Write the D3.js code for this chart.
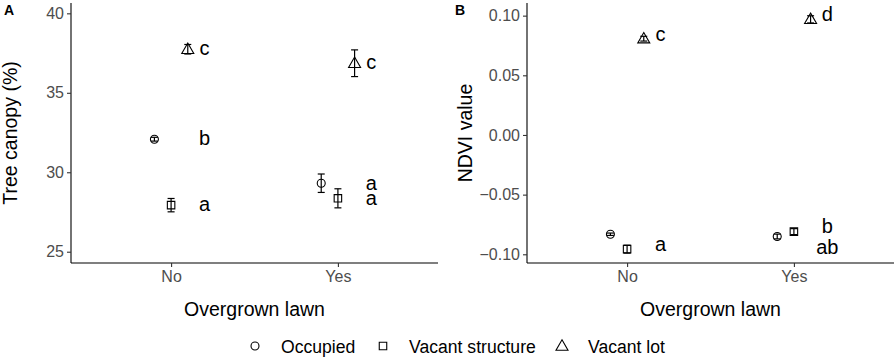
<!DOCTYPE html>
<html>
<head>
<meta charset="utf-8">
<script src="https://cdn.jsdelivr.net/npm/d3@7"></script>
<style>
  html, body { margin: 0; padding: 0; background: #fff; }
  svg { display: block; font-family: "Liberation Sans", Arial, sans-serif; }
</style>
</head>
<body>
<svg id="chart" width="896" height="358"></svg>
<script>
// ---------- data ----------
const categories = ["No", "Yes"];
const groups = ["Occupied", "Vacant structure", "Vacant lot"];
const groupShapes = ["circle", "square", "triangle"];

// Panel A: Tree canopy (%)
const canopyMean = {
  "Occupied":         [32.08, 29.31],
  "Vacant structure": [27.93, 28.36],
  "Vacant lot":       [37.74, 36.86]
};
const canopyErr = {
  "Occupied":         [0.12, 0.58],
  "Vacant structure": [0.42, 0.60],
  "Vacant lot":       [0.30, 0.84]
};
const canopyLetters = [
  { cat: "No",  text: "c", y: 37.74 },
  { cat: "No",  text: "b", y: 32.04 },
  { cat: "No",  text: "a", y: 27.90 },
  { cat: "Yes", text: "c", y: 36.86 },
  { cat: "Yes", text: "a", y: 29.20 },
  { cat: "Yes", text: "a", y: 28.30 }
];
const canopyTicks = [25, 30, 35, 40];
const canopyDomain = [24.29, 40.65];

// Panel B: NDVI value
const ndviMean = {
  "Occupied":         [-0.0832, -0.0851],
  "Vacant structure": [-0.0957, -0.0810],
  "Vacant lot":       [0.0807, 0.0969]
};
const ndviErr = {
  "Occupied":         [0.0010, 0.0020],
  "Vacant structure": [0.0033, 0.0025],
  "Vacant lot":       [0.0020, 0.0030]
};
const ndviLetters = [
  { cat: "No",  text: "c",  y: 0.083 },
  { cat: "No",  text: "a",  y: -0.093 },
  { cat: "Yes", text: "d",  y: 0.0998 },
  { cat: "Yes", text: "b",  y: -0.0778 },
  { cat: "Yes", text: "ab", y: -0.0954 }
];
const ndviTicks = [-0.10, -0.05, 0.00, 0.05, 0.10];
const ndviDomain = [-0.1073, 0.1106];

// ---------- drawing ----------
const svg = d3.select("#chart");
const tickColor = "#4d4d4d";

function symbolPath(shape) {
  if (shape === "circle") return d3.symbol(d3.symbolCircle, 50)();
  if (shape === "square") return d3.symbol(d3.symbolSquare, 56)();
  return "M0,-6.2L6,4.2L-6,4.2Z";
}

function panel(opts) {
  const { left, right, top, bottom, domain, ticks, fmt, mean, err, letters, tag, tagX, yTitle, yTitleX } = opts;
  const g = svg.append("g");

  // x band-like scale with ggplot-like 0.6 expansion
  const x = d3.scaleLinear().domain([0.4, 2.6]).range([left, right]);
  const catPos = d3.scaleOrdinal().domain(categories).range([1, 2]);
  const y = d3.scaleLinear().domain(domain).range([bottom, top]);
  const dodge = d3.scaleOrdinal().domain(groups).range([-0.1, 0, 0.1]);

  // axes
  const yAxis = d3.axisLeft(y).tickValues(ticks).tickFormat(fmt).tickSize(4).tickPadding(3);
  const yg = g.append("g").attr("transform", `translate(${left},0)`).call(yAxis);
  const xAxis = d3.axisBottom(x).tickValues([1, 2]).tickFormat(d => categories[d - 1]).tickSize(4).tickPadding(4);
  const xg = g.append("g").attr("transform", `translate(0,${bottom})`).call(xAxis);
  [yg, xg].forEach(a => {
    a.select(".domain").attr("stroke", "#000").attr("stroke-width", 1.1)
      .attr("d", a === yg ? `M0,${top}V${bottom}` : `M${left},0H${right}`);
    a.selectAll(".tick line").attr("stroke", "#333").attr("stroke-width", 1.1);
    a.selectAll(".tick text").attr("fill", tickColor).style("font-size", "16px")
      .style("font-family", '"Liberation Sans", Arial, sans-serif');
  });

  // points + error bars
  groups.forEach((grp, gi) => {
    categories.forEach((cat, ci) => {
      const cx = x(catPos(cat) + dodge(grp));
      const m = mean[grp][ci], e = err[grp][ci];
      const y0 = y(m - e), y1 = y(m + e);
      const eb = g.append("g").attr("stroke", "#000").attr("stroke-width", 1.2).attr("fill", "none");
      eb.append("line").attr("x1", cx).attr("x2", cx).attr("y1", y0).attr("y2", y1);
      eb.append("line").attr("x1", cx - 3.5).attr("x2", cx + 3.5).attr("y1", y0).attr("y2", y0);
      eb.append("line").attr("x1", cx - 3.5).attr("x2", cx + 3.5).attr("y1", y1).attr("y2", y1);
      g.append("path").attr("d", symbolPath(groupShapes[gi]))
        .attr("transform", `translate(${cx},${y(m)})`)
        .attr("fill", "none").attr("stroke", "#000").attr("stroke-width", 1.1);
    });
  });

  // letters
  g.selectAll("text.letter").data(letters).join("text")
    .attr("class", "letter")
    .attr("x", d => x(catPos(d.cat) + 0.2))
    .attr("y", d => y(d.y))
    .attr("dy", "0.27em")
    .attr("text-anchor", "middle")
    .style("font-size", "20px").attr("fill", "#000")
    .text(d => d.text);

  // axis titles
  g.append("text").attr("x", (left + right) / 2).attr("y", 316)
    .attr("text-anchor", "middle").style("font-size", "19.5px").attr("fill", "#000")
    .text("Overgrown lawn");
  g.append("text")
    .attr("transform", `translate(${yTitleX},${(top + bottom) / 2}) rotate(-90)`)
    .attr("text-anchor", "middle").style("font-size", "19.5px").attr("fill", "#000")
    .text(yTitle);
  // tag
  g.append("text").attr("x", tagX).attr("y", 15).style("font-size", "14px")
    .style("font-weight", "bold").attr("fill", "#000").text(tag);
}

panel({
  left: 71, right: 438, top: 3, bottom: 263,
  domain: canopyDomain, ticks: canopyTicks, fmt: d3.format("d"),
  mean: canopyMean, err: canopyErr, letters: canopyLetters,
  tag: "A", tagX: 4, yTitle: "Tree canopy (%)", yTitleX: 17
});
panel({
  left: 527, right: 894, top: 3, bottom: 263,
  domain: ndviDomain, ticks: ndviTicks, fmt: d3.format(".2f"),
  mean: ndviMean, err: ndviErr, letters: ndviLetters,
  tag: "B", tagX: 455, yTitle: "NDVI value", yTitleX: 472
});

// legend
const legendX = [255, 383, 562];
const legend = svg.append("g");
groups.forEach((grp, i) => {
  legend.append("path").attr("d", symbolPath(groupShapes[i]))
    .attr("transform", `translate(${legendX[i]},346)`)
    .attr("fill", "none").attr("stroke", "#000").attr("stroke-width", 1.1);
  legend.append("text").attr("x", legendX[i] + 26).attr("y", 352.5)
    .style("font-size", "17.6px").attr("fill", "#000").text(grp);
});
</script>
</body>
</html>
